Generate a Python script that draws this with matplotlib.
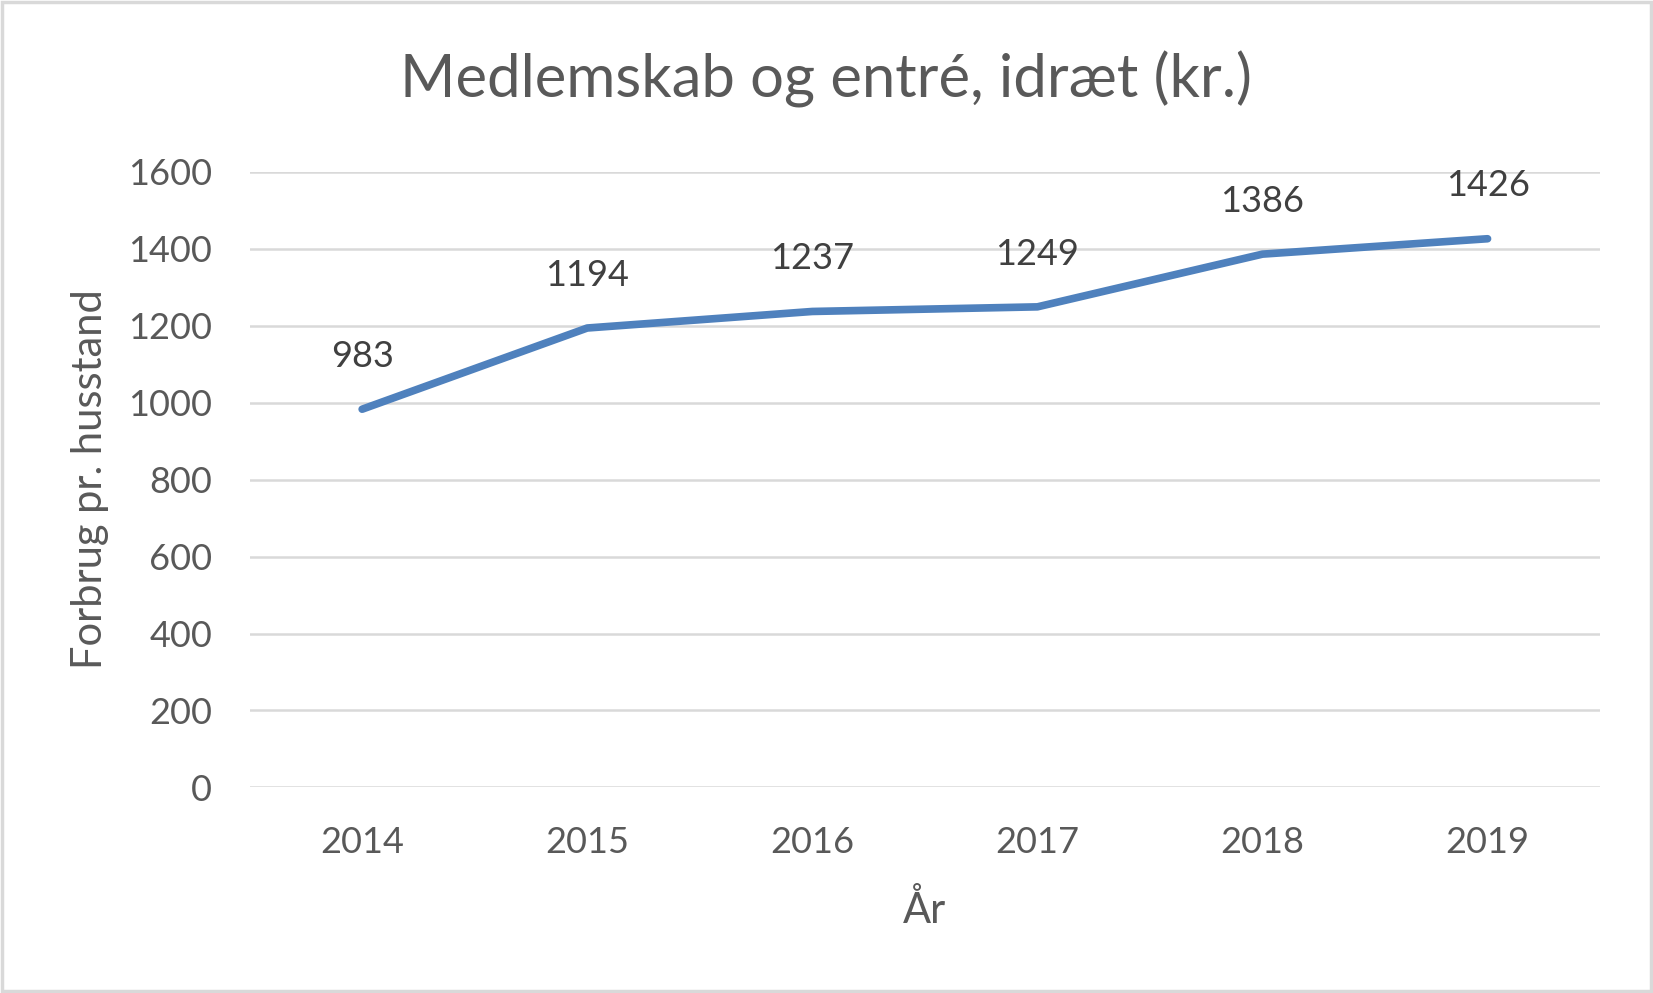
import matplotlib
matplotlib.use("Agg")
import matplotlib.pyplot as plt
from matplotlib.patches import Rectangle

# data
years = ["2014", "2015", "2016", "2017", "2018", "2019"]
values = [983, 1194, 1237, 1249, 1386, 1426]
yticks = [0, 200, 400, 600, 800, 1000, 1200, 1400, 1600]

plt.rcParams["font.family"] = ["Lato", "DejaVu Sans"]

fig = plt.figure(figsize=(16.53, 9.93), dpi=100)
ax = fig.add_axes([0.151, 0.207, 0.817, 0.620])

x = list(range(len(years)))
ax.plot(x, values, color="#4F81BD", linewidth=5.5, solid_capstyle="round",
        solid_joinstyle="round", zorder=3)

# data labels above each point
for xi, v in zip(x, values):
    ax.annotate(str(v), (xi, v), xytext=(0, 38), textcoords="offset points",
                ha="center", va="center", fontsize=26, color="#404040")

ax.set_xlim(-0.5, len(years) - 0.5)
ax.set_ylim(0, 1600)
ax.set_yticks(yticks)
ax.set_xticks(x)
ax.set_xticklabels(years)
ax.grid(axis="y", color="#D9D9D9", linewidth=1.8)
ax.set_axisbelow(True)
for s in ax.spines.values():
    s.set_visible(False)
ax.tick_params(length=0, labelsize=26, labelcolor="#595959", pad=27)
ax.tick_params(axis="x", pad=28)

ax.set_ylabel("Forbrug pr. husstand", fontsize=30, color="#595959", labelpad=14)
ax.set_xlabel("År", fontsize=30, color="#595959", labelpad=22)

fig.text(0.5, 0.92, "Medlemskab og entré, idræt (kr.)", ha="center", va="center",
         fontsize=43, color="#595959")

# light grey frame round the chart
fig.patches.append(Rectangle((0.001, 0.002), 0.998, 0.996, transform=fig.transFigure,
                             fill=False, edgecolor="#D9D9D9", linewidth=2.5))

fig.savefig("out.png", dpi=100)
